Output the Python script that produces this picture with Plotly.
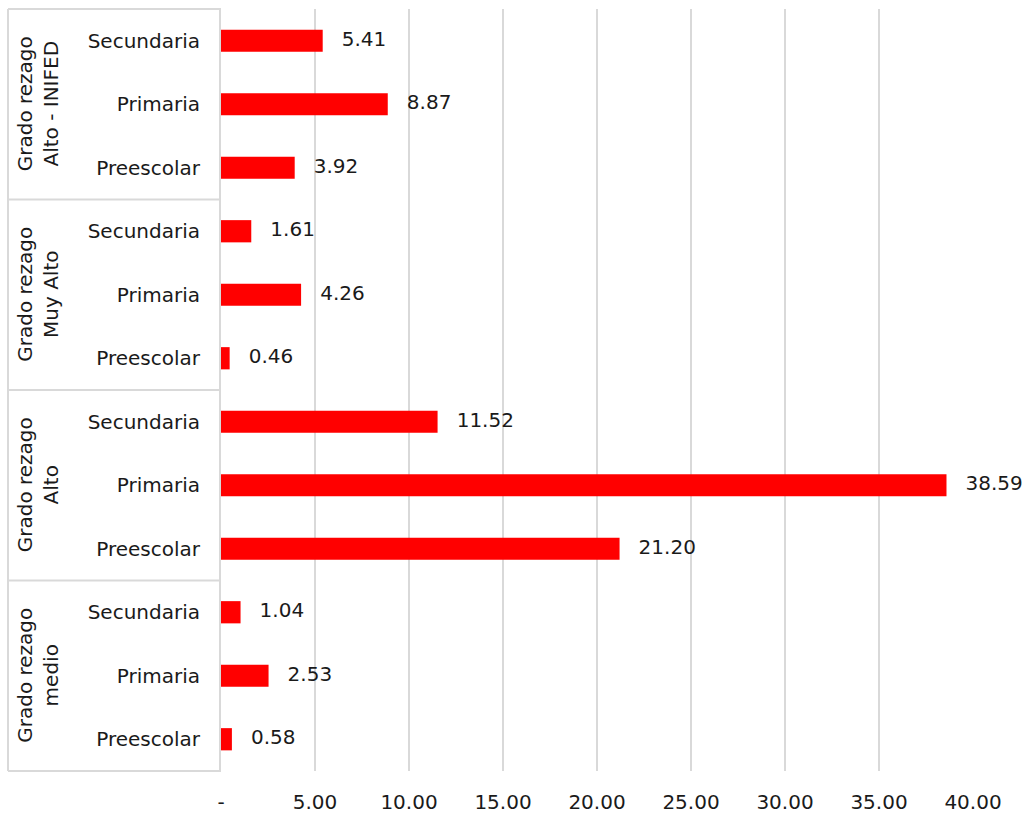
import plotly.graph_objects as go

groups = ["Grado rezago<br>medio", "Grado rezago<br>Alto", "Grado rezago<br>Muy Alto", "Grado rezago<br>Alto - INIFED"]
levels = ["Preescolar", "Primaria", "Secundaria"]
values_medio = [0.58, 2.53, 1.04]
values_alto = [21.20, 38.59, 11.52]
values_muy_alto = [0.46, 4.26, 1.61]
values_inifed = [3.92, 8.87, 5.41]
x_ticks = [0, 5, 10, 15, 20, 25, 30, 35, 40]
x_tick_labels = ["-", "5.00", "10.00", "15.00", "20.00", "25.00", "30.00", "35.00", "40.00"]

all_values = values_medio + values_alto + values_muy_alto + values_inifed
ypos = list(range(len(all_values)))
ylabels = levels * len(groups)

FONT = "DejaVu Sans"
FS = 20
TXT = "#1a1a1a"
GRID = "#d9d9d9"

fig = go.Figure()
fig.add_trace(go.Bar(
    x=all_values, y=ypos, orientation="h", width=0.35,
    marker=dict(color="#ff0000", line=dict(width=0)),
    showlegend=False, hoverinfo="skip",
))
fig.add_trace(go.Scatter(
    x=all_values, y=ypos, mode="text",
    text=["   " + f"{v:.2f}" for v in all_values],
    textposition="middle right",
    textfont=dict(family=FONT, size=FS, color=TXT),
    showlegend=False, hoverinfo="skip", cliponaxis=False,
))

L, R, T, B = 221, 53, 9, 42
W, H = 1026, 813
PW = W - L - R
fig.update_layout(
    width=W, height=H, margin=dict(l=L, r=R, t=T, b=B, autoexpand=False),
    paper_bgcolor="white", plot_bgcolor="white",
    font=dict(family=FONT, size=FS, color=TXT),
    xaxis=dict(range=[0, 40], tickvals=x_ticks, ticktext=x_tick_labels,
               showgrid=True, gridcolor=GRID, gridwidth=2, zeroline=False,
               showline=False, ticks="", ticklabelstandoff=17, automargin=False,
               tickfont=dict(family=FONT, size=FS, color=TXT)),
    yaxis=dict(range=[-0.5, 11.5], tickvals=ypos, ticktext=ylabels,
               showgrid=False, zeroline=False, showline=True, linecolor=GRID, linewidth=2,
               ticks="", ticklabelstandoff=15, automargin=False,
               tickfont=dict(family=FONT, size=FS, color=TXT)),
)

def px_to_paper(px):
    return (px - L) / PW

ln = dict(color=GRID, width=2)
x_left = px_to_paper(8)
x_axis = px_to_paper(L)
for k in range(len(groups) + 1):
    yy = k / len(groups)
    fig.add_shape(type="line", xref="paper", yref="paper", x0=x_left, x1=x_axis, y0=yy, y1=yy, line=ln)
fig.add_shape(type="line", xref="paper", yref="paper", x0=x_left, x1=x_left, y0=0, y1=1, line=ln)

for i, g in enumerate(groups):
    fig.add_annotation(
        xref="paper", yref="y", x=px_to_paper(38), y=i * 3 + 1,
        text=g, showarrow=False, textangle=-90,
        font=dict(family=FONT, size=FS, color=TXT), align="center",
        xanchor="center", yanchor="middle",
    )

fig.write_html("out.html")
